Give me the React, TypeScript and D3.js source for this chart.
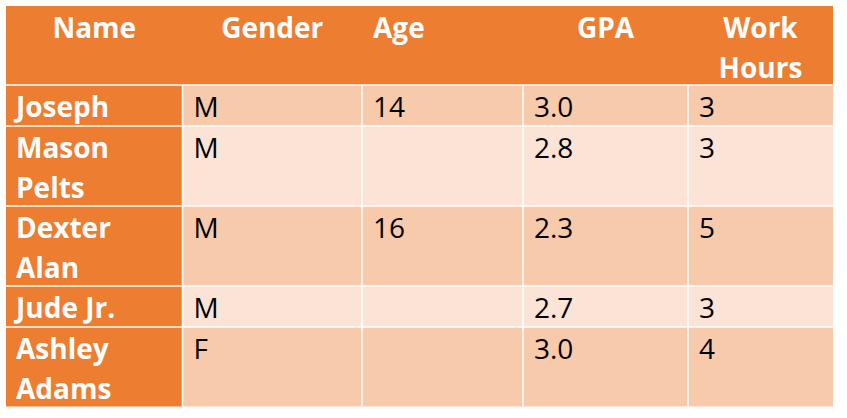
import React from "react";
import * as d3 from "d3";

// table content
const headers = ["Name", "Gender", "Age", "GPA", "Work\nHours"];
const names = ["Joseph", "Mason\nPelts", "Dexter\nAlan", "Jude Jr.", "Ashley\nAdams"];
const genders = ["M", "M", "M", "M", "F"];
const ages = ["14", "", "16", "", ""];
const gpas = ["3.0", "2.8", "2.3", "2.7", "3.0"];
const workHours = ["3", "3", "5", "3", "4"];

// layout
const W = 847;
const H = 418;
const colEdges = [6, 182.5, 362, 523, 688, 833];
const rowEdges = [6, 85, 126, 206, 286, 327, 406.5];
const headerAlign = ["middle", "middle", "start", "middle", "middle"];
const orange = "#ED7D31";
const darkRow = "#F7CAAC";
const lightRow = "#FBE4D5";
const font = "'Open Sans', sans-serif";
const pad = 11;
const firstBaseline = 31.5;
const lineGap = 40;

export default function App() {
  const rows = names.map((n, i) => [n, genders[i], ages[i], gpas[i], workHours[i]]);
  const xs = d3.range(headers.length).map((i) => colEdges[i]);
  const x1 = d3.range(headers.length).map((i) => colEdges[i + 1]);
  const left = colEdges[0];
  const right = colEdges[colEdges.length - 1];
  const top = rowEdges[0];
  const bottom = rowEdges[rowEdges.length - 1];

  const cellText = (txt: string, x: number, y: number, anchor: string, fill: string, weight: number, key: string) => (
    <text key={key} x={x} y={y} textAnchor={anchor} fill={fill} fontWeight={weight} fontFamily={font} fontSize={28}>
      {txt.split("\n").map((line, k) => (
        <tspan key={k} x={x} y={y + k * lineGap}>{line}</tspan>
      ))}
    </text>
  );

  return (
    <svg width={W} height={H} style={{ position: "absolute", left: 0, top: 0, background: "#fff" }}>
      {/* header band */}
      <rect x={left} y={top} width={right - left} height={rowEdges[1] - top} fill={orange} />
      {/* body cells */}
      {rows.map((r, ri) =>
        r.map((_, ci) => (
          <rect
            key={`c${ri}-${ci}`}
            x={xs[ci]}
            y={rowEdges[ri + 1]}
            width={x1[ci] - xs[ci]}
            height={rowEdges[ri + 2] - rowEdges[ri + 1]}
            fill={ci === 0 ? orange : ri % 2 === 0 ? darkRow : lightRow}
          />
        ))
      )}
      {/* grid lines */}
      {rowEdges.slice(1, -1).map((y, i) => (
        <line key={`h${i}`} x1={left} x2={right} y1={y} y2={y} stroke="#fff" strokeWidth={1.5} />
      ))}
      {colEdges.slice(1, -1).map((x, i) => (
        <line key={`v${i}`} x1={x} x2={x} y1={rowEdges[1]} y2={bottom} stroke="#fff" strokeWidth={1.5} />
      ))}
      {/* header text */}
      {headers.map((h, i) => {
        const a = headerAlign[i];
        const x = a === "middle" ? (xs[i] + x1[i]) / 2 : xs[i] + pad;
        return cellText(h, x, top + firstBaseline, a, "#fff", 700, `hd${i}`);
      })}
      {/* body text */}
      {rows.map((r, ri) =>
        r.map((v, ci) =>
          v
            ? cellText(
                v,
                xs[ci] + (ci === 0 ? 10 : pad),
                rowEdges[ri + 1] + firstBaseline,
                "start",
                ci === 0 ? "#fff" : "#000",
                ci === 0 ? 700 : 400,
                `t${ri}-${ci}`
              )
            : null
        )
      )}
    </svg>
  );
}
